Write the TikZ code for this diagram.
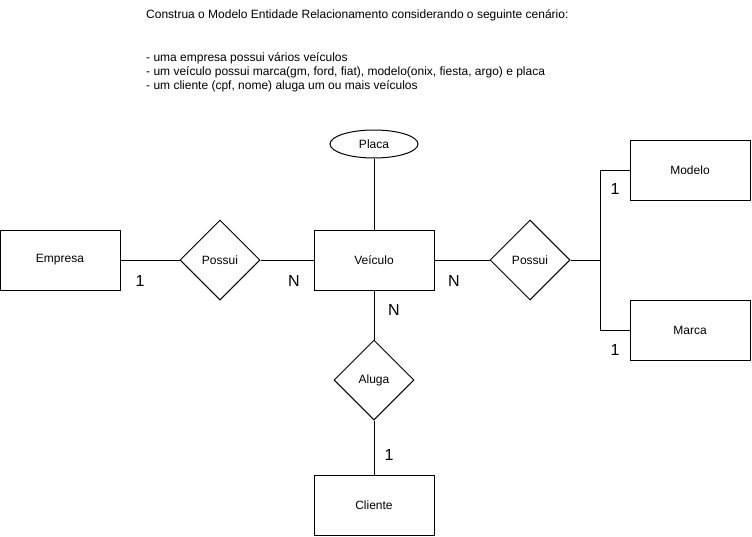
\documentclass[tikz,border=0pt]{standalone}
\usepackage{fontspec}
\setmainfont{Liberation Sans}
\usetikzlibrary{positioning,shapes.geometric}

\begin{document}
\begin{tikzpicture}[
    x=1pt, y=-1pt,
    entity/.style={rectangle, draw, line width=1pt, minimum width=120pt, minimum height=60pt, font=\fontsize{12}{14}\selectfont},
    relation/.style={diamond, draw, line width=1pt, minimum width=80pt, minimum height=80pt, inner sep=0pt, font=\fontsize{12}{14}\selectfont},
    attribute/.style={ellipse, draw, line width=1pt, minimum width=88pt, minimum height=28pt, inner sep=0pt, font=\fontsize{12}{14}\selectfont},
    edge/.style={draw, line width=1pt},
    card/.style={font=\fontsize{16}{18}\selectfont},
    scenario/.style={anchor=west, inner sep=0pt, font=\fontsize{12}{14}\selectfont}
]
\useasboundingbox (0,0) rectangle (752,536);

% Scenario text
\node[scenario] (title) at (146,15) {Construa o Modelo Entidade Relacionamento considerando o seguinte cenário:};
\node[scenario] (line1) at (146,58) {- uma empresa possui vários veículos};
\node[scenario] (line2) at (146,72) {- um veículo possui marca(gm, ford, fiat), modelo(onix, fiesta, argo) e placa};
\node[scenario] (line3) at (146,86) {- um cliente (cpf, nome) aluga um ou mais veículos};

% Entities
\node[entity] (empresa) at (60,260) {Empresa};
\node[entity] (veiculo) at (374,260) {Veículo};
\node[entity] (modelo) at (690,170) {Modelo};
\node[entity] (marca) at (690,330) {Marca};
\node[entity] (cliente) at (374,505) {Cliente};

% Relationships
\node[relation] (possuiA) at (220,260) {Possui};
\node[relation] (possuiB) at (530,260) {Possui};
\node[relation] (aluga) at (374,380) {Aluga};

% Attribute
\node[attribute] (placa) at (374,144) {Placa};

% Connectors
\coordinate (split) at (600,260);
\draw[edge] (empresa) -- (possuiA);
\draw[edge] (possuiA) -- (veiculo);
\draw[edge] (veiculo) -- (possuiB);
\draw[edge] (possuiB) -- (split);
\draw[edge] (split) |- (modelo.west);
\draw[edge] (split) |- (marca.west);
\draw[edge] (placa) -- (veiculo);
\draw[edge] (veiculo) -- (aluga);
\draw[edge] (aluga) -- (cliente);

% Cardinalities
\node[card] (c1) at (140,281) {1};
\node[card] (c2) at (294,281) {N};
\node[card] (c3) at (454,281) {N};
\node[card] (c4) at (394,310) {N};
\node[card] (c5) at (615,189) {1};
\node[card] (c6) at (615,350) {1};
\node[card] (c7) at (389,455) {1};

\end{tikzpicture}
\end{document}
